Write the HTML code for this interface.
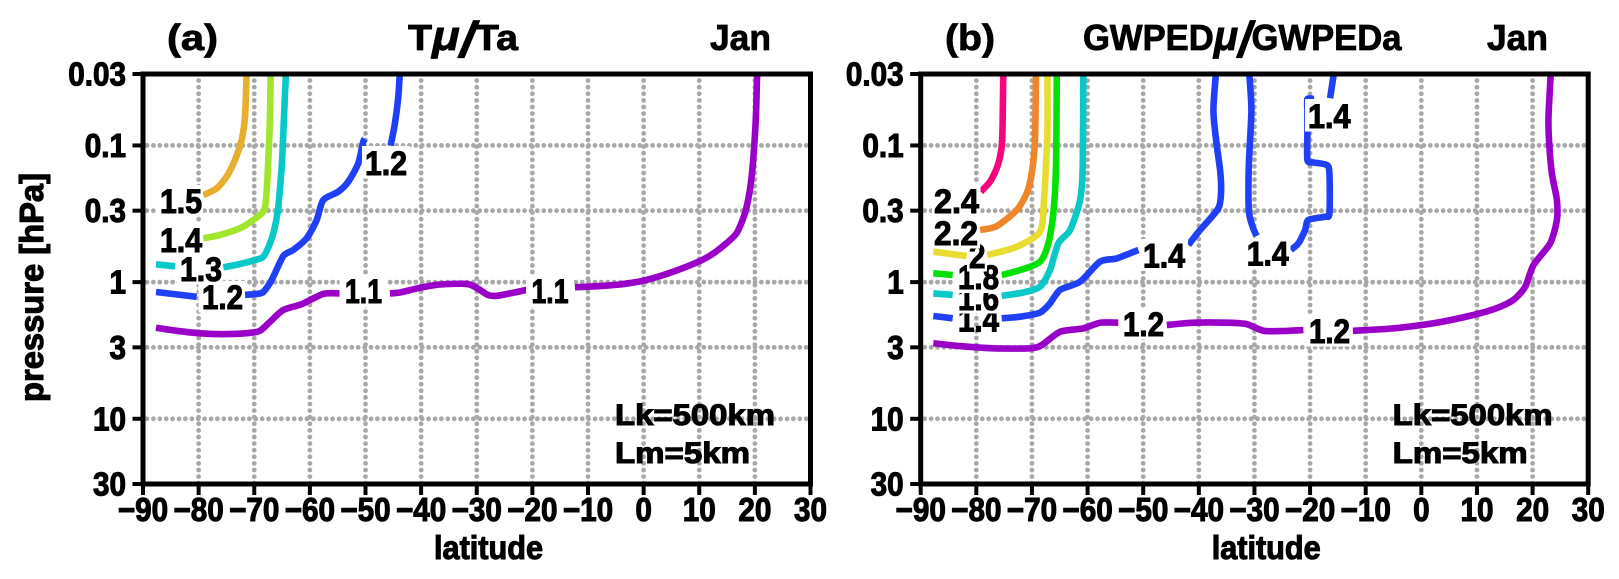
<!DOCTYPE html>
<html lang="en">
<head>
<meta charset="utf-8">
<title>Tμ/Ta and GWPEDμ/GWPEDa January contours</title>
<style>
html,body{margin:0;padding:0;background:#fff;width:1619px;height:579px;overflow:hidden}
svg{display:block}
text{font-family:"Liberation Sans",sans-serif;font-weight:bold;fill:#000}
.cl{font-size:34px;stroke:#000;stroke-width:1.1px}
.an{font-size:30px;stroke:#000;stroke-width:1.1px}
.ti{font-size:36px;stroke:#000;stroke-width:.8px}
.at{font-size:33px;stroke:#000;stroke-width:1.1px}
.box{fill:#fff;stroke:none}
.frame{fill:none;stroke:#000;stroke-width:5px}
</style>
</head>
<body>
<svg xmlns="http://www.w3.org/2000/svg" width="1619" height="579" viewBox="0 0 1619 579">
  <rect x="0" y="0" width="1619" height="579" fill="#fff"/>

  <!-- Panel (a) -->
  <g>
    <g id="a-grid"></g>
    <g id="a-curves"></g>
    <g>
      <rect class="box" x="339.5" y="276" width="48" height="31"/>
      <text class="cl" x="345" y="303" textLength="37" lengthAdjust="spacingAndGlyphs">1.1</text>
      <rect class="box" x="526" y="276" width="48" height="31"/>
      <text class="cl" x="531.5" y="303" textLength="37" lengthAdjust="spacingAndGlyphs">1.1</text>
      <rect class="box" x="198.5" y="281" width="46.5" height="31.5"/>
      <text class="cl" x="202" y="309" textLength="41" lengthAdjust="spacingAndGlyphs">1.2</text>
      <rect class="box" x="362" y="146" width="48" height="32.5"/>
      <text class="cl" x="365" y="175" textLength="42" lengthAdjust="spacingAndGlyphs">1.2</text>
      <rect class="box" x="177" y="253" width="46" height="31.5"/>
      <text class="cl" x="180" y="281" textLength="42" lengthAdjust="spacingAndGlyphs">1.3</text>
      <rect class="box" x="157" y="223" width="46" height="32.5"/>
      <text class="cl" x="160" y="252" textLength="42" lengthAdjust="spacingAndGlyphs">1.4</text>
      <rect class="box" x="157" y="185" width="46" height="31.5"/>
      <text class="cl" x="160" y="213" textLength="42" lengthAdjust="spacingAndGlyphs">1.5</text>
    </g>
    <rect class="frame" x="143" y="74" width="667.5" height="410"/>
    <g id="a-axes"></g>
    <text class="ti" x="167" y="50" textLength="51" lengthAdjust="spacingAndGlyphs">(a)</text>
    <text class="ti" x="408" y="50" textLength="110" lengthAdjust="spacingAndGlyphs">T<tspan font-style="italic" font-size="42">μ</tspan><tspan font-style="italic" font-size="50" dy="7">/</tspan><tspan dy="-7">Ta</tspan></text>
    <text class="ti" x="710" y="50" textLength="61" lengthAdjust="spacingAndGlyphs">Jan</text>
    <text class="an" x="615" y="425" textLength="160" lengthAdjust="spacingAndGlyphs">Lk=500km</text>
    <text class="an" x="615" y="463" textLength="135" lengthAdjust="spacingAndGlyphs">Lm=5km</text>
    <text class="at" x="434" y="559" textLength="109" lengthAdjust="spacingAndGlyphs">latitude</text>
    <text class="at" transform="translate(43,402) rotate(-90)" x="0" y="0" textLength="229" lengthAdjust="spacingAndGlyphs">pressure [hPa]</text>
  </g>

  <!-- Panel (b) -->
  <g>
    <g id="b-grid"></g>
    <g id="b-curves"></g>
    <g>
      <rect class="box" x="1119.5" y="308" width="47" height="31.5"/>
      <text class="cl" x="1123" y="336" textLength="41" lengthAdjust="spacingAndGlyphs">1.2</text>
      <rect class="box" x="1305.5" y="315" width="47" height="31.5"/>
      <text class="cl" x="1309" y="343" textLength="41" lengthAdjust="spacingAndGlyphs">1.2</text>
      <rect class="box" x="1140" y="239" width="48" height="32"/>
      <text class="cl" x="1143" y="267.7" textLength="42" lengthAdjust="spacingAndGlyphs">1.4</text>
      <rect class="box" x="1244" y="237.7" width="46.5" height="31.5"/>
      <text class="cl" x="1246.7" y="265.7" textLength="42" lengthAdjust="spacingAndGlyphs">1.4</text>
      <rect class="box" x="1305" y="99" width="48" height="32.5"/>
      <text class="cl" x="1308" y="128" textLength="42.5" lengthAdjust="spacingAndGlyphs">1.4</text>
      <text class="cl" x="958" y="331.7" textLength="41" lengthAdjust="spacingAndGlyphs">1.4</text>
      <rect class="box" x="954.5" y="282" width="47" height="31.5"/>
      <text class="cl" x="958" y="310" textLength="41" lengthAdjust="spacingAndGlyphs">1.6</text>
      <rect class="box" x="954.5" y="261" width="47" height="32"/>
      <text class="cl" x="958" y="289" textLength="41" lengthAdjust="spacingAndGlyphs">1.8</text>
      <rect class="box" x="967" y="241" width="20" height="30.5"/>
      <text class="cl" x="969" y="268" textLength="16.5" lengthAdjust="spacingAndGlyphs">2</text>
      <rect class="box" x="932" y="217" width="48" height="31.5"/>
      <text class="cl" x="934" y="245" textLength="44" lengthAdjust="spacingAndGlyphs">2.2</text>
      <rect class="box" x="932" y="184" width="48.5" height="32.5"/>
      <text class="cl" x="934" y="213" textLength="45" lengthAdjust="spacingAndGlyphs">2.4</text>
    </g>
    <rect class="frame" x="920.7" y="74" width="667.5" height="410"/>
    <g id="b-axes"></g>
    <text class="ti" x="945" y="50" textLength="50" lengthAdjust="spacingAndGlyphs">(b)</text>
    <text class="ti" x="1083" y="50" textLength="318.5" lengthAdjust="spacingAndGlyphs">GWPED<tspan font-style="italic" font-size="42">μ</tspan><tspan font-style="italic" font-size="50" dy="7">/</tspan><tspan dy="-7">GWPEDa</tspan></text>
    <text class="ti" x="1487" y="50" textLength="61" lengthAdjust="spacingAndGlyphs">Jan</text>
    <text class="an" x="1392.7" y="425" textLength="160" lengthAdjust="spacingAndGlyphs">Lk=500km</text>
    <text class="an" x="1392.7" y="463" textLength="135" lengthAdjust="spacingAndGlyphs">Lm=5km</text>
    <text class="at" x="1211.7" y="559" textLength="109" lengthAdjust="spacingAndGlyphs">latitude</text>
  </g>
</svg>

<script>
// ---- axis values ----
const latTicks = [-90,-80,-70,-60,-50,-40,-30,-20,-10,0,10,20,30];
const latTickLabels = ['−90','−80','−70','−60','−50','−40','−30','−20','−10','0','10','20','30'];
const pressureTicks = [0.03,0.1,0.3,1,3,10,30];
const pressureTickLabels = ['0.03','0.1','0.3','1','3','10','30'];

// ---- panel (a) contours: latitude / pressure per segment ----
const a15Lat = [-79.16,-76.75,-74.96,-73.47,-72.26,-71.67,-71.36];
const a15P   = [0.231,0.206,0.169,0.128,0.0912,0.0616,0.0288];
const a14Lat = [-79.16,-76.16,-72.57,-70.18,-68.2,-67.77,-67.48,-67.17,-67.05];
const a14P   = [0.478,0.452,0.404,0.351,0.297,0.212,0.128,0.0616,0.0288];
const a13Lat1 = [-87.66,-84.25];
const a13P1   = [0.741,0.766];
const a13Lat2 = [-75.57,-72.57,-69.87,-68.38,-67.17,-66.28,-65.68,-65.07,-64.78,-64.3];
const a13P2   = [0.779,0.737,0.689,0.652,0.52,0.393,0.281,0.143,0.0815,0.0288];
const a12Lat1 = [-87.66,-80.35];
const a12P1   = [1.18,1.28];
const a12Lat2 = [-71.67,-69.57,-68.38,-66.87,-64.78,-62.99,-60.58,-58.78,-57.6,-54.9,-53.1,-51.3,-50.41,-50.1];
const a12P2   = [1.24,1.22,1.18,0.965,0.644,0.582,0.478,0.351,0.251,0.218,0.184,0.135,0.0939,0.0895];
const a12Lat3 = [-45.48,-44.71,-44.1,-43.81];
const a12P3   = [0.1,0.0689,0.044,0.0288];
const a11Lat1 = [-87.66,-83.94,-79.76,-74.96,-70.77,-68.97,-67.17,-64.78,-61.48,-57.6,-54.59];
const a11P1   = [2.16,2.27,2.37,2.4,2.35,2.27,1.95,1.6,1.45,1.22,1.21];
const a11Lat2 = [-45.61,-43.81,-40.22,-36.62,-31.82,-30.02,-27.99,-26.43,-24.04,-21.04];
const a11P2   = [1.21,1.19,1.1,1.04,1.03,1.1,1.24,1.26,1.21,1.14];
const a11Lat3 = [-12.36,-7.87,-4.27,-0.08,4.12,7.72,11.31,14.29,16.7,18.2,19.1,19.69,20.18,20.41];
const a11P3   = [1.09,1.07,1.04,0.977,0.872,0.771,0.663,0.544,0.439,0.314,0.212,0.128,0.0616,0.0288];

// ---- panel (b) contours ----
const b24Lat = [-79.21,-77.54,-76.23,-75.43,-75.25,-75.15];
const b24P   = [0.218,0.184,0.143,0.102,0.0616,0.0288];
const b22Lat = [-79.34,-76.33,-72.74,-70.94,-70.04,-69.45,-69.27];
const b22P   = [0.416,0.389,0.297,0.224,0.16,0.0912,0.0288];
const b20Lat1 = [-87.73,-81.73];
const b20P1   = [0.599,0.644];
const b20Lat2 = [-78.02,-72.74,-68.55,-67.83,-67.23,-67.23];
const b20P2   = [0.633,0.551,0.428,0.251,0.0815,0.0288];
const b18Lat1 = [-87.73,-84.25];
const b18P1   = [0.862,0.887];
const b18Lat2 = [-75.43,-72.14,-68.55,-67.05,-66.16,-65.67,-65.54];
const b18P2   = [0.887,0.816,0.709,0.52,0.314,0.143,0.0288];
const b16Lat1 = [-87.73,-84.25];
const b16P1   = [1.21,1.24];
const b16Lat2 = [-75.43,-71.55,-68.55,-66.75,-65.26,-63.15,-61.35,-60.87,-60.76];
const b16P2   = [1.26,1.19,1.08,0.816,0.52,0.416,0.251,0.143,0.0288];
const b14Lat1 = [-87.73,-84.25];
const b14P1   = [1.77,1.84];
const b14Lat2 = [-75.43,-72.14,-68.55,-66.75,-64.95,-61.35,-57.76,-54.75,-50.87];
const b14P2   = [1.84,1.79,1.67,1.43,1.14,0.993,0.709,0.67,0.582];
const b14Lat3 = [-41.88,-39.78,-36.48,-36,-36.18,-36.9,-37.38,-36.9];
const b14P3   = [0.535,0.416,0.288,0.212,0.151,0.0912,0.0551,0.0288];
const b14Lat4 = [-30.96,-30.55,-31.02,-31.02,-30.34,-29.62];
const b14P4   = [0.0288,0.0551,0.143,0.297,0.393,0.46];
const b14Lat5 = [-15.68,-16.4];
const b14P5   = [0.0288,0.0452];
const b14Lat6 = [-19.27,-20.48,-20.48,-20.48,-20.48,-19.4,-16.99,-16.52,-16.52,-17.3,-20.3,-20.9,-22.1,-23.47];
const b14P6   = [0.0457,0.0457,0.0551,0.0793,0.128,0.133,0.139,0.16,0.314,0.332,0.351,0.416,0.52,0.582];
const b12Lat1 = [-87.73,-82.93,-76.94,-70.35,-68.24,-64.95,-60.76,-57.76,-54.47];
const b12P1   = [2.8,2.94,3.05,3.05,2.89,2.31,2.18,1.98,1.98];
const b12Lat2 = [-45.76,-40.97,-34.97,-31.38,-28.39,-24.8,-21.2];
const b12P2   = [2.06,1.98,1.98,2.03,2.27,2.28,2.24];
const b12Lat3 = [-12.31,-5.01,2.18,9.37,13.58,16.56,18.67,20.16,23.16,24.37,24.37,23.47,22.98,22.86,23.29];
const b12P3   = [2.27,2.18,2,1.74,1.55,1.35,1.08,0.75,0.52,0.351,0.251,0.16,0.0965,0.0616,0.0288];

const BLUE = '#2040f8', PURPLE = '#9a00c8', CYAN = '#08c8c8';
const panelACurves = [
  {level:'1.1', color:PURPLE, parts:[[a11Lat1,a11P1],[a11Lat2,a11P2],[a11Lat3,a11P3]]},
  {level:'1.2', color:BLUE,   parts:[[a12Lat1,a12P1],[a12Lat2,a12P2],[a12Lat3,a12P3]]},
  {level:'1.3', color:CYAN,   parts:[[a13Lat1,a13P1],[a13Lat2,a13P2]]},
  {level:'1.4', color:'#a2e52d', parts:[[a14Lat,a14P]]},
  {level:'1.5', color:'#e8ae2e', parts:[[a15Lat,a15P]]}
];
const panelBCurves = [
  {level:'1.2', color:PURPLE, parts:[[b12Lat1,b12P1],[b12Lat2,b12P2],[b12Lat3,b12P3]]},
  {level:'1.4', color:BLUE,   parts:[[b14Lat1,b14P1],[b14Lat2,b14P2],[b14Lat3,b14P3],[b14Lat4,b14P4],[b14Lat5,b14P5],[b14Lat6,b14P6]]},
  {level:'1.6', color:CYAN,   parts:[[b16Lat1,b16P1],[b16Lat2,b16P2]]},
  {level:'1.8', color:'#05e005', parts:[[b18Lat1,b18P1],[b18Lat2,b18P2]]},
  {level:'2',   color:'#e8dc30', parts:[[b20Lat1,b20P1],[b20Lat2,b20P2]]},
  {level:'2.2', color:'#f0862a', parts:[[b22Lat,b22P]]},
  {level:'2.4', color:'#f5047e', parts:[[b24Lat,b24P]]}
];

const NS = 'http://www.w3.org/2000/svg';
const TOP = 74, BOTTOM = 484, W = 667.5;
function yOf(p){ return TOP + Math.log10(p / 0.03) * (BOTTOM - TOP) / 3; }
function xScale(x0){ return function(lat){ return x0 + (lat + 90) * W / 120; }; }

// Light Catmull-Rom smoothing through the contour points
function smoothPath(pts){
  let d = 'M' + pts[0][0].toFixed(1) + ' ' + pts[0][1].toFixed(1);
  for (let i = 0; i < pts.length - 1; i++) {
    const p0 = pts[Math.max(i - 1, 0)], p1 = pts[i], p2 = pts[i + 1], p3 = pts[Math.min(i + 2, pts.length - 1)];
    const c1x = p1[0] + (p2[0] - p0[0]) / 8, c1y = p1[1] + (p2[1] - p0[1]) / 8;
    const c2x = p2[0] - (p3[0] - p1[0]) / 8, c2y = p2[1] - (p3[1] - p1[1]) / 8;
    d += 'C' + c1x.toFixed(1) + ' ' + c1y.toFixed(1) + ' ' + c2x.toFixed(1) + ' ' + c2y.toFixed(1) + ' ' + p2[0].toFixed(1) + ' ' + p2[1].toFixed(1);
  }
  return d;
}

function drawPanel(prefix, x0, curves){
  const xOf = xScale(x0);
  const grid = document.getElementById(prefix + '-grid');
  const curveGroup = document.getElementById(prefix + '-curves');
  const axes = document.getElementById(prefix + '-axes');

  latTicks.forEach(function(lat, i){
    const x = xOf(lat);
    if (i > 0 && i < latTicks.length - 1) {
      const g = document.createElementNS(NS, 'line');
      g.setAttribute('x1', x); g.setAttribute('x2', x);
      g.setAttribute('y1', TOP); g.setAttribute('y2', BOTTOM);
      g.setAttribute('stroke', '#a8a8a8');
      g.setAttribute('stroke-width', '4.8');
      g.setAttribute('stroke-linecap', 'round');
      g.setAttribute('stroke-dasharray', '0 6.6');
      
      
      grid.appendChild(g);
    }
    const t = document.createElementNS(NS, 'line');
    t.setAttribute('x1', x); t.setAttribute('x2', x);
    t.setAttribute('y1', BOTTOM); t.setAttribute('y2', BOTTOM + 11);
    t.setAttribute('stroke', '#000');
    t.setAttribute('stroke-width', '4');
    
    
    axes.appendChild(t);
    const l = document.createElementNS(NS, 'text');
    l.setAttribute('transform', 'translate(' + x + ',521) scale(0.9,1)');
    l.setAttribute('text-anchor', 'middle');
    l.setAttribute('font-size', '33');
    l.setAttribute('stroke', '#000');
    l.setAttribute('stroke-width', '1.1');
    l.textContent = latTickLabels[i];
    
    
    axes.appendChild(l);
  });

  pressureTicks.forEach(function(p, i){
    const y = yOf(p);
    if (i > 0 && i < pressureTicks.length - 1) {
      const g = document.createElementNS(NS, 'line');
      g.setAttribute('x1', x0 + 4); g.setAttribute('x2', x0 + W);
      g.setAttribute('y1', y); g.setAttribute('y2', y);
      g.setAttribute('stroke', '#a8a8a8');
      g.setAttribute('stroke-width', '4.8');
      g.setAttribute('stroke-linecap', 'round');
      g.setAttribute('stroke-dasharray', '0 6.4');
      
      
      grid.appendChild(g);
    }
    const t = document.createElementNS(NS, 'line');
    t.setAttribute('x1', x0 - 10.5); t.setAttribute('x2', x0);
    t.setAttribute('y1', y); t.setAttribute('y2', y);
    t.setAttribute('stroke', '#000');
    t.setAttribute('stroke-width', '4');
    
    
    axes.appendChild(t);
    const l = document.createElementNS(NS, 'text');
    l.setAttribute('transform', 'translate(' + (x0 - 17) + ',' + (y + 11.5) + ') scale(0.9,1)');
    l.setAttribute('text-anchor', 'end');
    l.setAttribute('font-size', '33');
    l.setAttribute('stroke', '#000');
    l.setAttribute('stroke-width', '1.1');
    l.textContent = pressureTickLabels[i];
    
    
    axes.appendChild(l);
  });

  curves.forEach(function(curve){
    curve.parts.forEach(function(part){
      const lats = part[0], ps = part[1];
      const pts = lats.map(function(lat, k){
        return [xOf(lat), yOf(ps[k])];
      });
      const line = document.createElementNS(NS, 'path');
      line.setAttribute('d', smoothPath(pts));
      line.setAttribute('fill', 'none');
      line.setAttribute('stroke', curve.color);
      line.setAttribute('stroke-width', '6.6');
      line.setAttribute('stroke-linejoin', 'round');
      
      
      curveGroup.appendChild(line);
    });
  });
}

drawPanel('a', 143, panelACurves);
drawPanel('b', 920.7, panelBCurves);
</script>
</body>
</html>
